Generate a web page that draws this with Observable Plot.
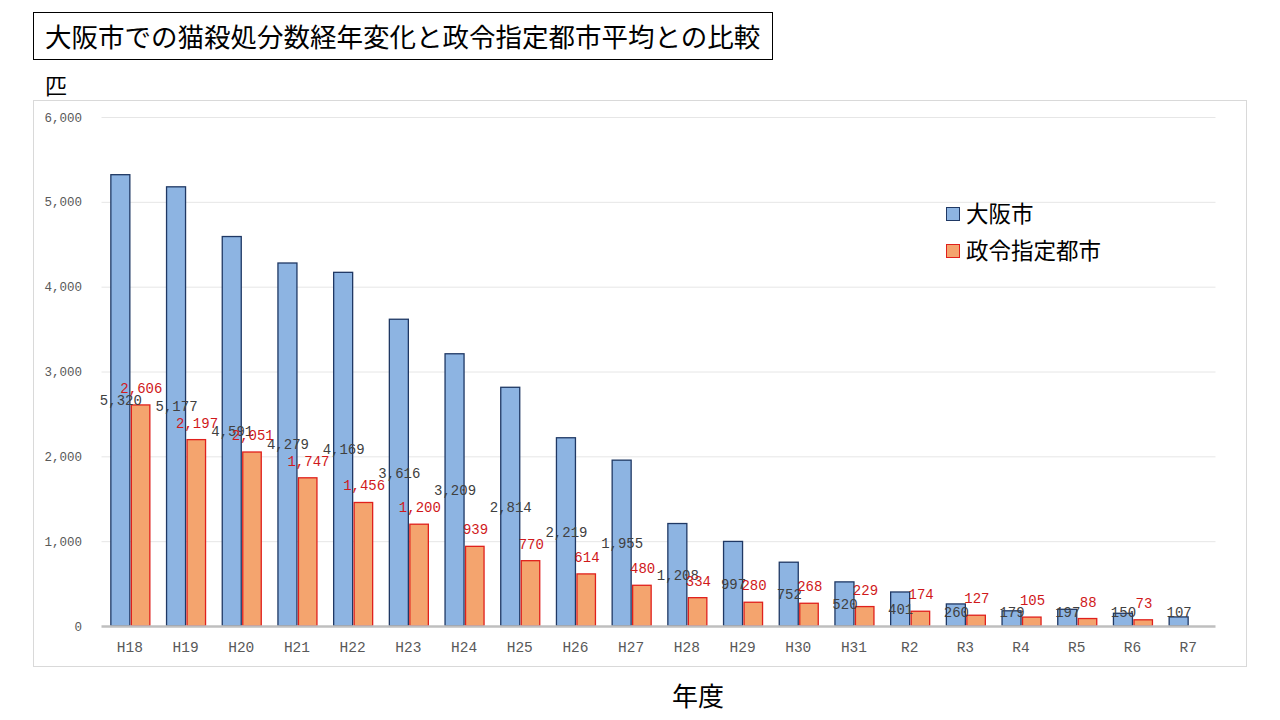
<!DOCTYPE html>
<html>
<head>
<meta charset="utf-8">
<script src="https://cdn.jsdelivr.net/npm/d3@7"></script>
<script src="https://cdn.jsdelivr.net/npm/@observablehq/plot@0.6"></script>
<style>
  html, body { margin: 0; padding: 0; background: #fff; }
  body { width: 1280px; height: 720px; position: relative; overflow: hidden; font-family: "Noto Sans CJK JP", sans-serif; }
  .abs { position: absolute; }
  #title { left: 33px; top: 12px; width: 740px; height: 48px; box-sizing: border-box; border: 1px solid #000;
           font-size: 26.5px; line-height: 46px; padding-left: 11px; color: #000; white-space: nowrap; }
  #frame { left: 33px; top: 100px; width: 1214px; height: 567px; box-sizing: border-box; border: 1px solid #d9d9d9; }
  #unit { left: 45px; top: 72px; font-size: 22px; line-height: 24px; color: #000; }
  #xlabel { left: 672px; top: 680px; font-size: 26px; line-height: 30px; color: #000; }
  .leg { font-size: 22.5px; line-height: 26px; color: #000; white-space: nowrap; }
  .sw { width: 12px; height: 12px; border: 1px solid; }
  #chart { left: 0; top: 0; }
</style>
</head>
<body>
<div id="frame" class="abs"></div>
<div id="chart" class="abs"></div>
<div id="title" class="abs">大阪市での猫殺処分数経年変化と政令指定都市平均との比較</div>
<div id="unit" class="abs">匹</div>
<div id="xlabel" class="abs">年度</div>
<div class="abs sw" style="left:946px;top:207px;background:#8db4e2;border-color:#1f3864"></div>
<div class="abs leg" style="left:966px;top:199px">大阪市</div>
<div class="abs sw" style="left:946px;top:244px;background:#f4a46e;border-color:#e0201c"></div>
<div class="abs leg" style="left:966px;top:236px">政令指定都市</div>
<script>
const years = ["H18","H19","H20","H21","H22","H23","H24","H25","H26","H27","H28","H29","H30","H31","R2","R3","R4","R5","R6","R7"];
const osaka = [5320,5177,4591,4279,4169,3616,3209,2814,2219,1955,1208,997,752,520,401,260,179,197,150,107];
const seirei = [2606,2197,2051,1747,1456,1200,939,770,614,480,334,280,268,229,174,127,105,88,73,null];
const yTicks = [0,1000,2000,3000,4000,5000,6000];

const series1 = years.map((y, i) => ({year: y, v: osaka[i]}));
const series2 = years.map((y, i) => ({year: y, v: seirei[i]})).filter(d => d.v != null);

const fmt = d3.format(",");
const W = 1280, H = 720;
const mL = 101.5, mR = 64.5;
const bw = (W - mL - mR) / years.length;
const half = bw / 2;
const numFont = "'Liberation Mono', 'DejaVu Sans Mono', monospace";

const chart = Plot.plot({
  width: W,
  height: H,
  marginTop: 117,
  marginBottom: 94,
  marginLeft: mL,
  marginRight: mR,
  style: { background: "transparent", fontFamily: numFont, overflow: "visible" },
  x: { domain: years, padding: 0, round: false, label: null },
  y: { domain: [0, 6000], label: null },
  marks: [
    Plot.ruleY(yTicks.filter(d => d > 0), { stroke: "#e6e6e6", strokeWidth: 1 }),
    Plot.axisY({ ticks: yTicks, tickFormat: fmt, tickSize: 0, tickPadding: 20, fontSize: 12.5, fill: "#595959", label: null }),
    Plot.axisX({ tickSize: 0, tickPadding: 15, fontSize: 14.5, fill: "#595959", label: null }),
    Plot.barY(series1, { x: "year", y: "v", fill: "#8db4e2", stroke: "#1f3864", strokeWidth: 1.3,
      insetLeft: half - 18.5, insetRight: half - 0.5 }),
    Plot.barY(series2, { x: "year", y: "v", fill: "#f4a46e", stroke: "#e0201c", strokeWidth: 1.3,
      insetLeft: half + 2, insetRight: half - 20.5 }),
    Plot.ruleY([0], { stroke: "#bfbfbf", strokeWidth: 2.5 }),
    Plot.text(series1, { x: "year", y: d => Math.max(d.v / 2, 165), text: d => fmt(d.v), dx: -9,
      fill: "#404040", fontSize: 14, fontFamily: numFont }),
    Plot.text(series2, { x: "year", y: "v", text: d => fmt(d.v), dx: 11.5, dy: -17,
      fill: "#d0191b", fontSize: 14, fontFamily: numFont })
  ]
});
document.getElementById("chart").appendChild(chart);
</script>
</body>
</html>
